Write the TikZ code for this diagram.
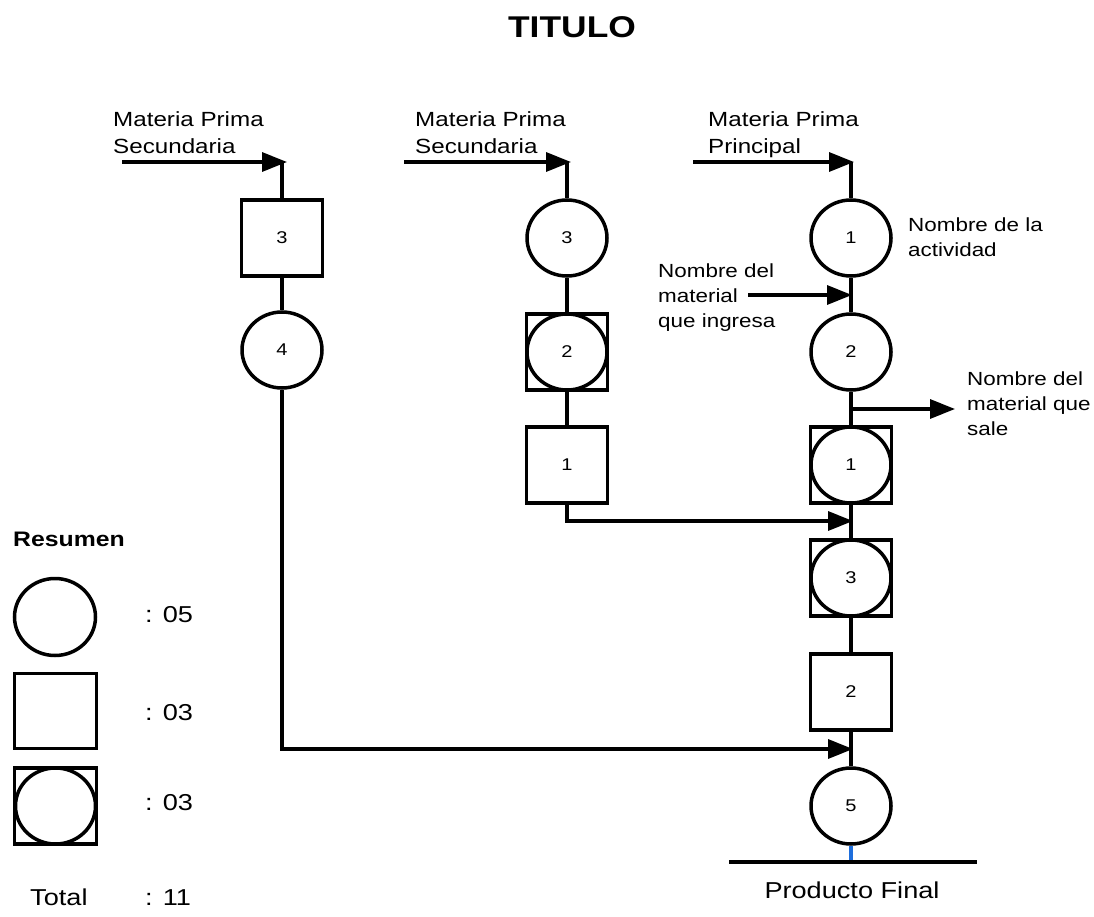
\documentclass[tikz,border=0pt]{standalone}
\usepackage{fontspec}
\setmainfont[FakeStretch=1.18]{Liberation Sans}
\usetikzlibrary{arrows.meta,shapes.geometric}

\newcommand\numfont{\fontsize{17}{20}\selectfont}
\newcommand\feedfont{\fontsize{20.5}{27}\selectfont}
\newcommand\notefont{\fontsize{19}{25}\selectfont}
\newcommand\sumfont{\fontsize{23}{27}\selectfont}

\tikzset{
  opcircle/.style={ellipse, draw, line width=3.5pt, minimum width=80pt,
    minimum height=76pt, inner sep=0pt, font=\numfont},
  insbox/.style={rectangle, draw, line width=3.5pt, minimum width=81pt,
    minimum height=76pt, inner sep=0pt, font=\numfont},
  combo/.style={insbox, path picture={
    \draw[line width=3.5pt] (path picture bounding box.center)
      ellipse [x radius=40pt, y radius=38pt];}},
  flow/.style={line width=3.3pt},
  flowarrow/.style={flow, -{Triangle[length=25pt,width=19pt]}},
  txt/.style={inner sep=0pt, align=left, anchor=base west},
}

\begin{document}
\begin{tikzpicture}[x=1pt,y=-1pt]
\useasboundingbox (0,0) rectangle (1094,917);

% title
\node[anchor=base, inner sep=0pt, font=\bfseries\fontsize{30}{36}\selectfont] (title) at (572,38) {TITULO};

% feed labels (anchored at the baseline of their last line)
\node[txt, font=\feedfont] (feed1) at (113,154) {Materia Prima\\Secundaria};
\node[txt, font=\feedfont] (feed2) at (415,154) {Materia Prima\\Secundaria};
\node[txt, font=\feedfont] (feed3) at (708,154) {Materia Prima\\Principal};

% left branch
\node[insbox] (L3) at (282,238) {3};
\node[opcircle] (L4) at (282,350) {4};

% middle branch
\node[opcircle] (M3) at (567,238) {3};
\node[combo] (M2) at (567,352) {2};
\node[insbox] (M1) at (567,465) {1};

% main line
\node[opcircle] (P1) at (851,238) {1};
\node[opcircle] (P2) at (851,352) {2};
\node[combo] (Q1) at (851,465) {1};
\node[combo] (Q3) at (851,578) {3};
\node[insbox] (R2) at (851,692) {2};
\node[opcircle] (P5) at (851,806) {5};

% junction points
\coordinate (inL0) at (122,162);
\coordinate (inL) at (282,162);
\coordinate (inM0) at (404,162);
\coordinate (inM) at (567,162);
\coordinate (inP0) at (693,162);
\coordinate (inP) at (851,162);
\coordinate (ing0) at (748,295);
\coordinate (ing) at (851,295);
\coordinate (out0) at (851,409);
\coordinate (out) at (955,409);
\coordinate (joinM) at (851,521);
\coordinate (joinL) at (851,749);
\coordinate (base) at (851,862);
\coordinate (baseW) at (729,862);
\coordinate (baseE) at (977,862);

% incoming raw materials
\draw[flowarrow] (inL0) -- ([xshift=5pt]inL);
\draw[flowarrow] (inM0) -- ([xshift=4pt]inM);
\draw[flowarrow] (inP0) -- ([xshift=3pt]inP);

% vertical flows
\draw[flow] (inL) -- (L3.north);
\draw[flow] (L3.south) -- (L4.north);
\draw[flow] (inM) -- (M3.north);
\draw[flow] (M3.south) -- (M2.north);
\draw[flow] (M2.south) -- (M1.north);
\draw[flow] (inP) -- (P1.north);
\draw[flow] (P1.south) -- (P2.north);
\draw[flow] (P2.south) -- (Q1.north);
\draw[flow] (Q1.south) -- (Q3.north);
\draw[flow] (Q3.south) -- (R2.north);
\draw[flow] (R2.south) -- (P5.north);

% branches joining the main line
\draw[flowarrow] (M1.south) |- ([xshift=2pt]joinM);
\draw[flowarrow] (L4.south) |- ([xshift=2pt]joinL);

% material in / out
\draw[flowarrow] (ing0) -- ([xshift=1pt]ing);
\draw[flowarrow] (out0) -- (out);

% final product
\draw[line width=3.3pt, color={rgb,255:red,30;green,110;blue,220}] (P5.south) -- (base);
\draw[line width=3.3pt] (baseW) -- (baseE);
\node[anchor=base, inner sep=0pt, font=\sumfont] (prod) at (852,898) {Producto Final};

% annotations (anchored at the baseline of their last line)
\node[txt, font=\notefont] (act) at (908,257) {Nombre de la\\actividad};
\node[txt, font=\notefont] (inlbl) at (658,327) {Nombre del\\material\\que ingresa};
\node[txt, font=\notefont] (outlbl) at (967,435) {Nombre del\\material que\\sale};

% summary
\node[txt, font=\bfseries\fontsize{21}{25}\selectfont] (sum) at (13,546) {Resumen};
\node[opcircle, minimum width=81pt, minimum height=77pt] (kC) at (55,617) {};
\node[insbox, minimum width=82pt, minimum height=75pt] (kB) at (55.5,711) {};
\node[combo, minimum width=82pt, minimum height=76pt] (kX) at (55.5,806) {};
\node[txt, font=\sumfont] (nC) at (145,622) {: 05};
\node[txt, font=\sumfont] (nB) at (145,720) {: 03};
\node[txt, font=\sumfont] (nX) at (145,810) {: 03};
\node[txt, font=\sumfont] (tot) at (30,905) {Total};
\node[txt, font=\sumfont] (ntot) at (145,905) {: 11};
\end{tikzpicture}
\end{document}
